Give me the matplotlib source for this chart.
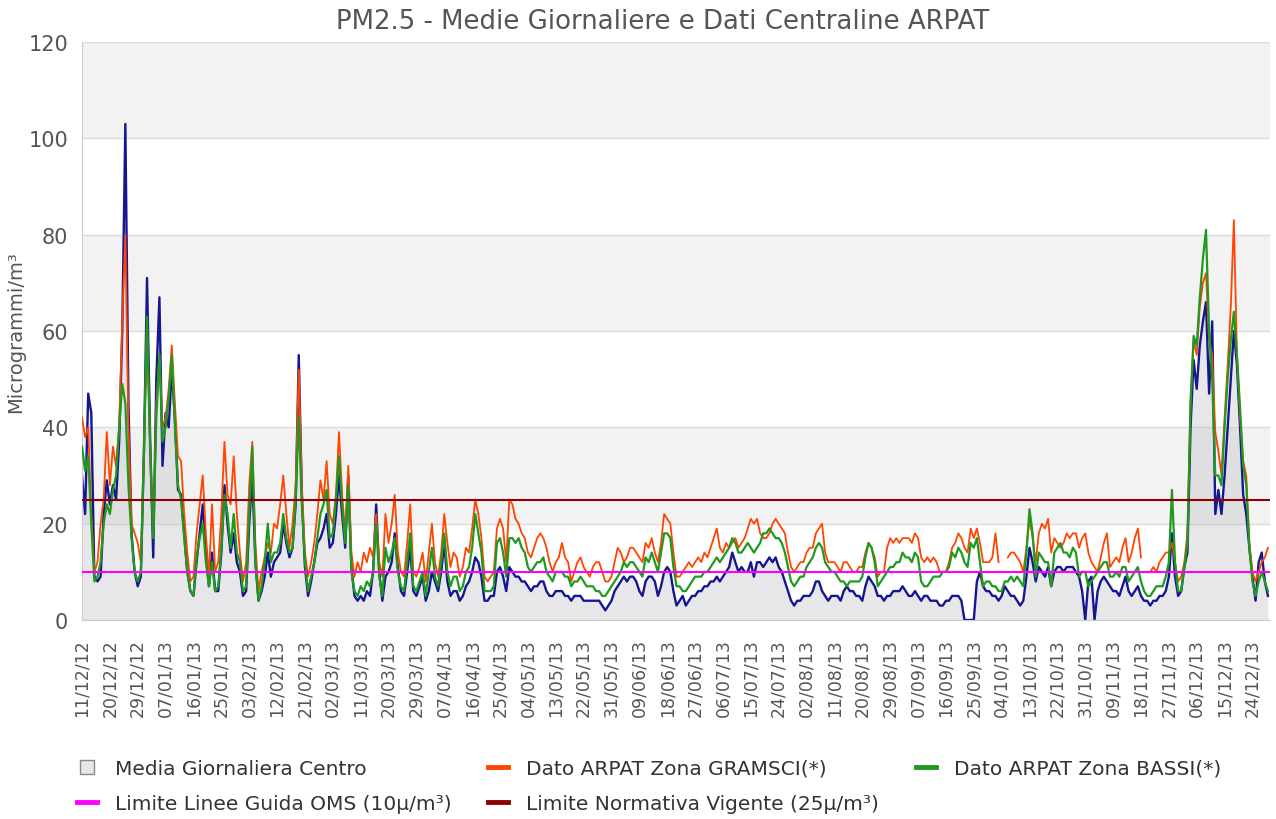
import numpy as np
import pandas as pd
import matplotlib
matplotlib.use("Agg")
import matplotlib.pyplot as plt
from matplotlib.lines import Line2D

nan = np.nan

# daily values from 11/12/2012, one row = 10 days
media_centro = [
    30, 22, 47, 43, 9, 8, 9, 22, 29, 24,
    28, 25, 37, 60, 103, 45, 18, 10, 7, 9,
    35, 71, 38, 13, 50, 67, 32, 43, 40, 52,
    42, 27, 26, 18, 10, 6, 5, 12, 18, 24,
    14, 7, 14, 6, 6, 14, 28, 20, 14, 18,
    12, 10, 5, 6, 20, 30, 12, 4, 6, 9,
    14, 9, 12, 13, 14, 20, 16, 13, 15, 24,
    55, 26, 11, 5, 8, 12, 16, 17, 19, 22,
    15, 16, 22, 30, 22, 15, 30, 11, 5, 4,
    5, 4, 6, 5, 10, 24, 10, 4, 9, 10,
    12, 18, 11, 6, 5, 10, 15, 6, 5, 7,
    9, 4, 6, 10, 8, 6, 10, 16, 8, 5,
    6, 6, 4, 5, 7, 8, 10, 13, 12, 9,
    4, 4, 5, 5, 10, 11, 9, 6, 11, 10,
    9, 9, 8, 8, 7, 6, 7, 7, 8, 8,
    6, 5, 5, 6, 6, 6, 5, 5, 4, 5,
    5, 5, 4, 4, 4, 4, 4, 4, 3, 2,
    3, 4, 6, 7, 8, 9, 8, 9, 9, 8,
    6, 5, 8, 9, 9, 8, 5, 7, 10, 11,
    10, 6, 3, 4, 5, 3, 4, 5, 5, 6,
    6, 7, 7, 8, 8, 9, 8, 9, 10, 11,
    14, 12, 10, 11, 10, 10, 12, 9, 12, 12,
    11, 12, 13, 12, 13, 11, 10, 8, 6, 4,
    3, 4, 4, 5, 5, 5, 6, 8, 8, 6,
    5, 4, 5, 5, 5, 4, 6, 7, 6, 6,
    5, 5, 4, 7, 9, 8, 7, 5, 5, 4,
    5, 5, 6, 6, 6, 7, 6, 5, 5, 6,
    5, 4, 5, 5, 4, 4, 4, 3, 3, 4,
    4, 5, 5, 5, 4, 0, 0, 0, 0, 8,
    10, 7, 6, 6, 5, 5, 4, 5, 7, 6,
    5, 5, 4, 3, 4, 9, 15, 12, 8, 11,
    10, 9, 11, 7, 10, 11, 11, 10, 11, 11,
    11, 10, 9, 6, 0, 8, 9, 0, 6, 8,
    9, 8, 7, 6, 6, 5, 7, 9, 6, 5,
    6, 7, 5, 4, 4, 3, 4, 4, 5, 5,
    6, 9, 18, 9, 5, 6, 11, 14, 40, 54,
    48, 57, 62, 66, 47, 62, 22, 27, 22, 30,
    40, 50, 60, 53, 40, 26, 22, 15, 9, 4,
    12, 14, 8, 5,
]

gramsci = [
    42, 38, 40, 22, 10, 12, 20, 25, 39, 28,
    36, 32, 40, 62, 80, 40, 20, 18, 16, 12,
    35, 62, 36, 18, 45, 55, 40, 42, 48, 57,
    45, 34, 33, 22, 14, 8, 9, 18, 24, 30,
    18, 9, 24, 10, 12, 22, 37, 26, 24, 34,
    22, 14, 8, 12, 28, 37, 16, 6, 10, 13,
    16, 14, 20, 19, 24, 30, 22, 15, 20, 28,
    52, 28, 14, 9, 12, 16, 22, 29, 25, 33,
    22, 20, 26, 39, 26, 18, 32, 14, 9, 12,
    10, 14, 12, 15, 13, 22, 12, 9, 22, 16,
    20, 26, 14, 10, 9, 16, 24, 10, 9, 11,
    14, 8, 14, 20, 12, 9, 14, 22, 16, 11,
    14, 13, 9, 11, 15, 14, 19, 25, 22, 17,
    9, 8, 9, 10, 19, 21, 19, 12, 25, 24,
    21, 20, 18, 17, 14, 13, 15, 17, 18, 17,
    15, 12, 10, 12, 13, 16, 13, 12, 8, 10,
    12, 13, 11, 10, 9, 11, 12, 12, 10, 8,
    8, 9, 12, 15, 14, 12, 13, 15, 15, 14,
    13, 12, 16, 15, 17, 14, 12, 16, 22, 21,
    20, 14, 9, 9, 10, 11, 12, 11, 12, 13,
    12, 14, 13, 15, 17, 19, 15, 14, 16, 15,
    16, 17, 15, 16, 17, 19, 21, 20, 21, 18,
    17, 17, 18, 20, 21, 20, 19, 18, 14, 11,
    10, 11, 12, 12, 14, 15, 15, 18, 19, 20,
    14, 12, 12, 12, 11, 10, 12, 12, 11, 10,
    10, 11, 11, 14, 16, 15, 13, 9, 10, 10,
    15, 17, 16, 17, 16, 17, 17, 17, 16, 18,
    17, 13, 12, 13, 12, 13, 12, 10, 10, 10,
    12, 15, 16, 18, 17, 15, 14, 19, 17, 19,
    16, 12, 12, 12, 13, 18, 12, nan, nan, 13,
    14, 14, 13, 12, 10, 15, 21, 17, 12, 18,
    20, 19, 21, 14, 17, 16, 15, 16, 18, 17,
    18, 18, 15, 17, 18, 14, 12, 11, 10, 13,
    16, 18, 11, 12, 13, 12, 15, 17, 12, 14,
    17, 19, 13, nan, nan, 10, 11, 10, 12, 13,
    14, 14, 16, 12, 8, 9, 12, 18, 45, 58,
    55, 65, 70, 72, 58, 55, 39, 35, 30, 42,
    53, 65, 83, 55, 42, 33, 30, 16, 10, 8,
    10, 12, 13, 15,
]

bassi = [
    36, 31, 34, 20, 8, 9, 12, 20, 24, 22,
    27, 30, 40, 49, 45, 28, 17, 10, 8, 10,
    35, 63, 35, 17, 42, 55, 37, 40, 46, 55,
    40, 28, 25, 17, 10, 6, 5, 13, 17, 20,
    12, 7, 12, 6, 7, 15, 26, 22, 15, 22,
    14, 12, 6, 7, 22, 36, 12, 4, 7, 12,
    20, 12, 14, 14, 16, 22, 17, 14, 15, 25,
    42, 24, 12, 6, 9, 12, 17, 22, 24, 27,
    17, 18, 25, 34, 24, 16, 28, 10, 6, 5,
    7, 6, 8, 7, 10, 20, 9, 5, 15, 12,
    14, 17, 10, 7, 6, 12, 18, 7, 6, 8,
    10, 5, 10, 15, 9, 7, 12, 18, 10, 7,
    9, 9, 6, 7, 10, 11, 15, 22, 18, 14,
    6, 6, 6, 7, 16, 17, 14, 9, 17, 17,
    16, 17, 15, 14, 11, 10, 11, 12, 12, 13,
    10, 9, 8, 10, 10, 10, 9, 9, 7, 8,
    8, 9, 8, 7, 7, 7, 6, 6, 5, 5,
    6, 7, 8, 9, 10, 12, 11, 12, 12, 11,
    10, 9, 13, 12, 14, 12, 10, 14, 18, 18,
    17, 11, 7, 7, 6, 6, 7, 8, 9, 9,
    9, 10, 10, 11, 12, 13, 12, 13, 14, 15,
    17, 16, 14, 14, 15, 16, 15, 14, 15, 16,
    18, 18, 19, 18, 17, 17, 16, 14, 11, 8,
    7, 8, 9, 9, 11, 12, 13, 15, 16, 15,
    12, 11, 10, 10, 9, 8, 8, 7, 8, 8,
    8, 8, 9, 13, 16, 15, 12, 7, 8, 9,
    10, 11, 11, 12, 12, 14, 13, 13, 12, 14,
    13, 8, 7, 7, 8, 9, 9, 9, 10, 10,
    11, 14, 13, 15, 14, 12, 11, 16, 15, 17,
    12, 7, 8, 8, 7, 7, 6, 6, 8, 8,
    9, 8, 9, 8, 7, 14, 23, 18, 9, 14,
    13, 12, 12, 7, 14, 15, 16, 14, 14, 13,
    15, 14, 9, 10, 10, 7, 8, 9, 10, 11,
    12, 12, 9, 9, 10, 9, 11, 11, 8, 9,
    10, 11, 8, 6, 5, 5, 6, 7, 7, 7,
    9, 12, 27, 12, 6, 6, 11, 16, 45, 59,
    57, 67, 75, 81, 60, 50, 30, 30, 28, 40,
    50, 58, 64, 55, 44, 32, 28, 15, 8, 5,
    8, 10, 8, 6,
]

limite_oms = 10
limite_norma = 25

labels = ['Media Giornaliera Centro', 'Limite Linee Guida OMS (10µ/m³)',
          'Dato ARPAT Zona GRAMSCI(*)', 'Limite Normativa Vigente (25µ/m³)',
          'Dato ARPAT Zona BASSI(*)']

dates = pd.date_range('2012-12-11', periods=len(media_centro), freq='D')

W, H = 1276, 820
fig = plt.figure(figsize=(W / 100, H / 100), dpi=100)
ax = fig.add_axes([82 / W, 1 - 621 / H, (1270 - 82) / W, (621 - 43) / H])

# alternate bands and grid
for lo in (20, 60, 100):
    ax.axhspan(lo, lo + 20, color='#f2f2f2', lw=0, zorder=0)
for y in range(0, 121, 20):
    ax.axhline(y, color='#dcdcdc', lw=1, zorder=0.5)

ax.fill_between(dates, 0, media_centro, color='#bcbcc4', alpha=0.35, lw=0, zorder=1)
ax.plot(dates, media_centro, color='#161690', lw=1.7, zorder=2)
ax.plot(dates, gramsci, color='#ff4500', lw=1.3, zorder=3)
ax.plot(dates, bassi, color='#1f9a1f', lw=1.6, zorder=4)
ax.axhline(limite_oms, color='#ff00ff', lw=1.5, zorder=5)
ax.axhline(limite_norma, color='#8b0000', lw=1.5, zorder=5)

ax.set_xlim(dates[0], dates[-1] + pd.Timedelta(hours=16))
ax.set_ylim(0, 120)
ticks = dates[::9]
ax.set_xticks(ticks)
ax.set_xticklabels([d.strftime('%d/%m/%y') for d in ticks], rotation=90)
ax.set_yticks(range(0, 121, 20))
ax.tick_params(axis='x', length=0, labelsize=12.5, colors='#555555', pad=13)
ax.tick_params(axis='y', length=0, labelsize=15, colors='#555555', pad=10)
for s in ('top', 'right'):
    ax.spines[s].set_visible(False)
for s in ('left', 'bottom'):
    ax.spines[s].set_color('#cccccc')

ax.set_ylabel('Microgrammi/m³', fontsize=14, color='#555555', labelpad=2)
ax.set_title('PM2.5 - Medie Giornaliere e Dati Centraline ARPAT', fontsize=18.7,
             color='#555555', pad=10, x=0.489)

handles = [
    Line2D([], [], marker='s', markersize=9.5, linestyle='none',
           markerfacecolor='#e6e6e6', markeredgecolor='#888888', markeredgewidth=1),
    Line2D([], [], color='#ff00ff', lw=3.5),
    Line2D([], [], color='#ff4500', lw=3.5),
    Line2D([], [], color='#8b0000', lw=3.5),
    Line2D([], [], color='#1f9a1f', lw=3.5),
]
fig.legend(handles, labels, ncol=3, loc='upper left',
           bbox_to_anchor=(77 / W, 1 - 760 / H), frameon=False, fontsize=14.5,
           borderpad=0, borderaxespad=0,
           handlelength=1.0, handletextpad=0.9,
           columnspacing=1.8, labelspacing=0.8, labelcolor='#333333')

fig.savefig('out.png', dpi=100)
